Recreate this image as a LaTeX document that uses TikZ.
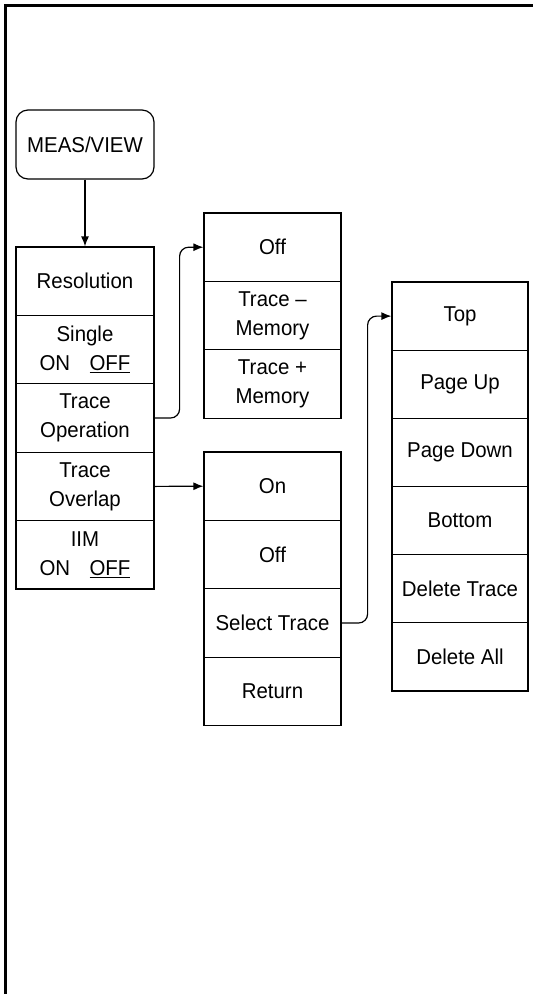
\documentclass[tikz,border=0pt]{standalone}
\usepackage{fontspec}
\setmainfont[FakeStretch=0.95]{Liberation Sans}
\usetikzlibrary{arrows.meta}
\begin{document}
\begin{tikzpicture}[x=1pt,y=-1pt,
  cell/.style={draw,line width=1.2pt,rectangle,inner sep=0pt,align=center,
    font=\fontsize{21.5}{29}\selectfont},
  lcell/.style={cell,minimum width=138pt,minimum height=68.4pt},
  mcell/.style={cell,minimum width=137pt,minimum height=68.4pt},
  rcell/.style={cell,minimum width=136pt,minimum height=68.17pt},
  conn/.style={line width=1.2pt,-{Latex[length=10pt,width=8pt]}},
  frame/.style={line width=3pt}]
\useasboundingbox (0,0) rectangle (533,994);
\draw[frame] (5.5,994) -- (5.5,5.5) -- (533,5.5);
% top key
\node[cell,rounded corners=12pt,minimum width=138pt,minimum height=69pt] (meas) at (85,144.5) {MEAS/VIEW};
% left column
\node[lcell] (res)  at (85,281.2) {Resolution};
\node[lcell] (sing) at (85,349.6) {Single\\ON\hspace{0.9em}\underline{OFF}};
\node[lcell] (trop) at (85,418.0) {Trace\\Operation};
\node[lcell] (trov) at (85,486.4) {Trace\\Overlap};
\node[lcell] (iim)  at (85,554.8) {IIM\\ON\hspace{0.9em}\underline{OFF}};
% middle top column
\node[mcell] (off1) at (272.5,247.2) {Off};
\node[mcell] (tmm)  at (272.5,315.6) {Trace –\\Memory};
\node[mcell] (tpm)  at (272.5,384.0) {Trace +\\Memory};
% middle bottom column
\node[mcell] (on)   at (272.5,486.2) {On};
\node[mcell] (off2) at (272.5,554.6) {Off};
\node[mcell] (sel)  at (272.5,623.0) {Select Trace};
\node[mcell] (ret)  at (272.5,691.4) {Return};
% right column
\node[rcell] (top)  at (460,316.1) {Top};
\node[rcell] (pgu)  at (460,384.3) {Page Up};
\node[rcell] (pgd)  at (460,452.4) {Page Down};
\node[rcell] (bot)  at (460,520.6) {Bottom};
\node[rcell] (delt) at (460,588.8) {Delete Trace};
\node[rcell] (dela) at (460,656.9) {Delete All};
% connectors
\draw[conn] (meas.south) -- (res.north);
\draw[conn,rounded corners=9pt] (trop.east) -- ++(25,0) |- (off1.west);
\draw[conn] (trov.east) -- (on.west);
\draw[conn,rounded corners=9pt] (sel.east) -- ++(26,0) |- (top.west);
\end{tikzpicture}
\end{document}
